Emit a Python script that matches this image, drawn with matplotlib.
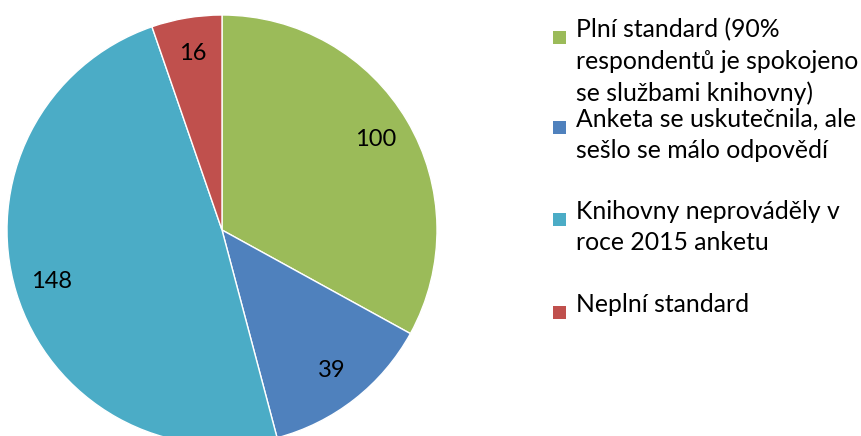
import matplotlib
matplotlib.use("Agg")
import matplotlib.pyplot as plt
from matplotlib.patches import Rectangle

plt.rcParams['font.family'] = ['Lato', 'DejaVu Sans']

labels = [
    "Plní standard (90%\nrespondentů je spokojeno\nse službami knihovny)",
    "Anketa se uskutečnila, ale\nsešlo se málo odpovědí",
    "Knihovny neprováděly v\nroce 2015 anketu",
    "Neplní standard",
]
values = [100, 39, 148, 16]
colors = ["#9BBB59", "#4F81BD", "#4BACC6", "#C0504D"]
total = sum(values)

fig = plt.figure(figsize=(8.62, 4.36), dpi=100)
ax = fig.add_axes([7 / 862, -9 / 436, 430 / 862, 430 / 436])
wedges, texts, autotexts = ax.pie(
    values, colors=colors, startangle=90, counterclock=False,
    autopct=lambda p: f"{round(p * total / 100)}", pctdistance=0.83,
    wedgeprops=dict(edgecolor="white", linewidth=1),
    textprops=dict(fontsize=17, color="black"),
)
ax.set_xlim(-1, 1)
ax.set_ylim(-1, 1)
ax.set_aspect("equal")
ax.axis("off")

# legend drawn by hand
legend_y = [37, 127, 219, 312]
for lab, col, y in zip(labels, colors, legend_y):
    fig.patches.append(Rectangle((553 / 862, 1 - (y + 7) / 436), 13 / 862, 13 / 436,
                                 transform=fig.transFigure, facecolor=col, edgecolor="none"))
    fig.text(576 / 862, 1 - (y - 19) / 436, lab, fontsize=17.8, va="top", ha="left",
             linespacing=1.44)

fig.savefig("out.png", dpi=100)
